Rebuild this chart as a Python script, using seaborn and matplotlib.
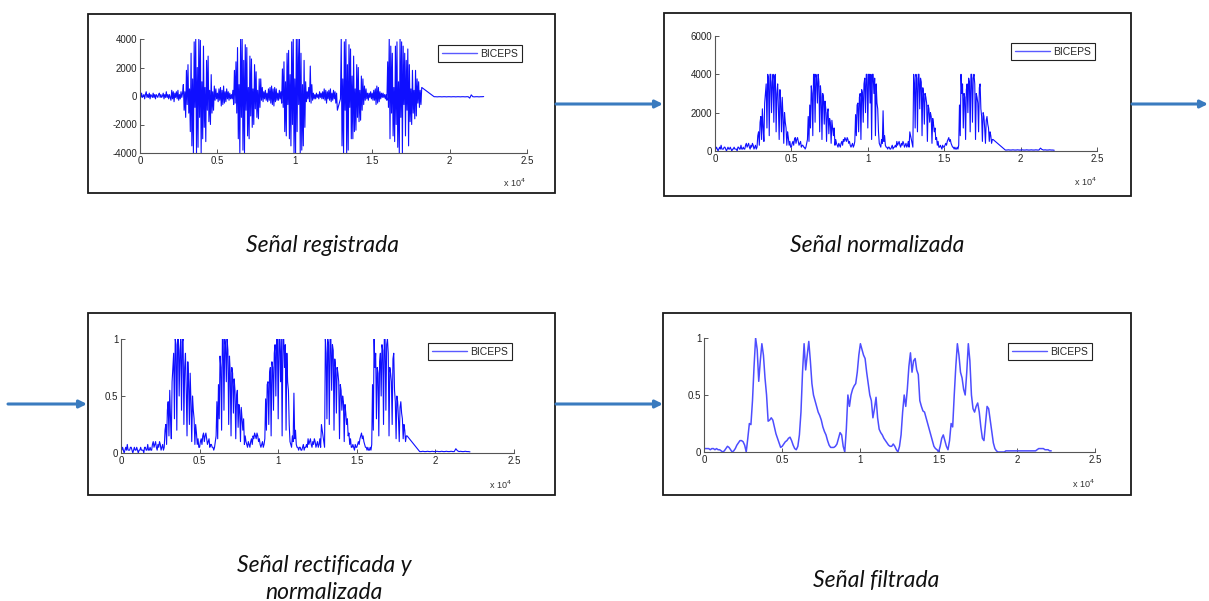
import numpy as np
import matplotlib
matplotlib.use("Agg")
import matplotlib.pyplot as plt
import seaborn as sns
from matplotlib.patches import Rectangle, FancyArrowPatch

# recorded biceps EMG, in hundreds, one value every 50 samples up to 1.82e4
# (read off the first panel)
step_main = 50
raw_main_x100 = [
    # quiet 0 - 0.2
    1, -1, 2, -1, 0, 1, -2, 1, 3, -1, 1, -1, 2, -2, 1, 0, -1, 2, -1, 1,
    -2, 1, 0, -1, 1, 2, -1, 1, -1, 0, 2, -2, 1, -1, 3, -1, 1, -2, 1, -1,
    -3, 4, -2, 3, -4, 2, -1, 3, -2, 4, -3, 1, -2, 3, -1, 2,
    # burst 1
    8, -10, 3, -15, 18, -6, 22, -12, 5, -25,
    30, -35, 12, -40, 38, -8, 40, -40, 20, -36,
    40, -15, 39, -40, 10, -30, 35, -22, 6, -32,
    25, -10, 28, -18, 4, -20, 15, -12, 3, -10,
    7, -3, 5, -2,
    2, -4, 5, -3, 6, -7, 4, -6, 7, -5,
    3, -4, 5, -2, 3, -3, 2, -2, 1, -2,
    4, -6,
    # burst 2
    18, -5, 24, -12, 34, -30, 8, -40, 40, -15,
    40, -38, 25, -40, 36, -10, 34, -28, 6, -30,
    28, -14, 26, -22, 5, -20, 22, -9, 17, -15,
    4, -16, 12, -8, 12, -3, 6, -4,
    3, -2, 4, -3, 2, -4, 5, -3, 6, -5,
    7, -6, 5, -7, 6, -4, 5, -3, 2, -3,
    4, -2, 3, -5,
    # burst 3
    19, -8, 24, -25, 10, -28, 30, -6, 32, -30,
    15, -35, 38, -20, 40, -40, 12, -40, 40, -25,
    40, -6, 40, -40, 30, -38, 8, -35, 25, -22,
    10, -4,
    3, -2, 6, -4, 21, -5, 8, -3, 2, -2,
    1, -2, 2, -1, 1, -2, 3, -1, 2, -2,
    3, -2, 5, -3, 4, -5, 3, -2, 4, -3,
    5, -4, 2, -3, 4, -2, 3, -5, 2, -10,
    -8, -6, -4, -2,
    # burst 4
    40, -35, 12, -40, 38, -10, 40, -40, 22, -38,
    36, -8, 33, -30, 14, -30, 28, -25, 5, -24,
    22, -15, 20, -18, 4, -17, 14, -10, 12, -6,
    7, -3, 5, -2,
    2, -3, 2, -1, 3, -2, 2, -3, 4, -3,
    5, -6, 7, -5, 6, -4, 3, -2, 2, -1,
    2, -1, 1, -2, 1, -3,
    # burst 5
    24, -8, 40, -30, 35, -12, 30, -28, 6, -32,
    35, -20, 38, -36, 10, -40, 40, -15, 38, -40,
    35, -6, 30, -28, 25, -10, 33, -35, 22, -18,
    5, -20, 18, -12, 4, -16, 18, -14, 12, -5,
    10, -8, 4, -6,
    6,
]

# tail after the gap, in hundreds, one value every 100 samples from 1.9e4
tail_start = 19000
step_tail = 100
raw_tail_x100 = [
    -0.5, -0.5, -0.6, -0.5, -0.5, -0.6, -0.5, -0.5, -0.6, -0.5, -0.5,
    -0.6, -0.5, -0.5, -0.6, -0.5, -0.5, -0.6, -0.5, -0.5, -0.6, -0.5,
    -0.5, -1.5, 0.8, -0.5, -0.6, -0.5, -0.5, -0.6, -0.5, -0.5, -0.4,
]

# filtered envelope, one value every 100 samples
step_filt = 100
filtered_signal = [
    0.03, 0.03, 0.03, 0.03, 0.02, 0.03, 0.03, 0.02, 0.03, 0.02, 0.02,
    0.01, 0.00, 0.01, 0.03, 0.05, 0.04, 0.02, 0.00, 0.01, 0.03,
    0.06, 0.08, 0.10, 0.10, 0.09, 0.06, 0.00, 0.12, 0.25, 0.24,
    0.45, 0.75, 1.00, 0.90, 0.62, 0.80, 0.95, 0.85, 0.65, 0.50,
    0.27, 0.28, 0.30, 0.28, 0.22, 0.16, 0.12, 0.08, 0.04, 0.05,
    0.07, 0.09, 0.10, 0.12, 0.13, 0.10, 0.06, 0.03, 0.02, 0.05,
    0.15, 0.35, 0.70, 0.95, 0.72, 0.85, 0.97, 0.80, 0.60, 0.50,
    0.45, 0.40, 0.35, 0.32, 0.28, 0.22, 0.18, 0.15, 0.10, 0.06,
    0.04, 0.04, 0.04, 0.05, 0.07, 0.12, 0.17, 0.15, 0.05, 0.00,
    0.20, 0.50, 0.40, 0.50, 0.55, 0.58, 0.60, 0.70, 0.85, 0.95,
    0.90, 0.85, 0.82, 0.70, 0.60, 0.50, 0.45, 0.30, 0.38, 0.48,
    0.30, 0.20, 0.17, 0.15, 0.12, 0.10, 0.08, 0.06, 0.05, 0.05,
    0.07, 0.05, 0.02, 0.00, 0.05, 0.15, 0.35, 0.50, 0.40, 0.55,
    0.75, 0.87, 0.70, 0.80, 0.82, 0.72, 0.68, 0.45, 0.40, 0.36,
    0.35, 0.30, 0.25, 0.20, 0.15, 0.10, 0.05, 0.03, 0.02, 0.00,
    0.05, 0.12, 0.15, 0.10, 0.05, 0.02, 0.10, 0.25, 0.22, 0.50,
    0.75, 0.95, 0.85, 0.70, 0.65, 0.55, 0.50, 0.70, 0.95, 0.80,
    0.50, 0.38, 0.35, 0.40, 0.43, 0.35, 0.22, 0.12, 0.10, 0.25,
    0.40, 0.38, 0.28, 0.18, 0.08, 0.03, 0.01, 0.00, 0.00, 0.00,
    0.00, 0.00, 0.01, 0.01, 0.01, 0.01, 0.01, 0.01, 0.01, 0.01,
    0.01, 0.01, 0.01, 0.01, 0.01, 0.01, 0.01, 0.01, 0.01, 0.01,
    0.01, 0.01, 0.02, 0.03, 0.03, 0.03, 0.03, 0.02, 0.02, 0.02, 0.01, 0.01,
]

x_ticks = [0, 5000, 10000, 15000, 20000, 25000]
x_tick_labels = ["0", "0.5", "1", "1.5", "2", "2.5"]
captions = ["Señal registrada", "Señal normalizada", "Señal rectificada y\nnormalizada", "Señal filtrada"]
legend_label = "BICEPS"

raw = np.concatenate([np.array(raw_main_x100, float), np.array(raw_tail_x100, float)]) * 100
x_raw = np.concatenate([np.arange(len(raw_main_x100)) * step_main,
                        tail_start + np.arange(len(raw_tail_x100)) * step_tail])
rectified = np.abs(raw)
rect_norm = rectified / rectified.max()
filt = np.array(filtered_signal)
x_filt = np.arange(len(filt)) * step_filt

sns.set_style("ticks")
plt.rcParams["font.family"] = ["Liberation Sans", "DejaVu Sans"]

W, H = 1209, 601
fig = plt.figure(figsize=(W / 100, H / 100), dpi=100)


def px_rect(x0, x1, ytop, ybot):
    return [x0 / W, 1 - ybot / H, (x1 - x0) / W, (ybot - ytop) / H]


def fpt(x, y):
    return (x / W, 1 - y / H)


panels = [
    dict(ax=(140, 527, 39, 153), frame=(88, 555, 14, 193), x=x_raw, y=raw,
         ylim=(-4000, 4000), yticks=[-4000, -2000, 0, 2000, 4000],
         leg=(522, 45), exp=(514, 183), lw=0.8, color="#0f0fff"),
    dict(ax=(715, 1097, 36, 151), frame=(664, 1131, 13, 196), x=x_raw, y=rectified,
         ylim=(0, 6000), yticks=[0, 2000, 4000, 6000],
         leg=(1095, 43), exp=(1085, 182), lw=0.8, color="#0f0fff"),
    dict(ax=(121, 514, 339, 453), frame=(88, 555, 313, 495), x=x_raw, y=rect_norm,
         ylim=(0, 1), yticks=[0, 0.5, 1],
         leg=(512, 343), exp=(500, 485), lw=0.8, color="#0f0fff"),
    dict(ax=(704, 1095, 338, 452), frame=(663, 1131, 313, 495), x=x_filt, y=filt,
         ylim=(0, 1), yticks=[0, 0.5, 1],
         leg=(1092, 343), exp=(1083, 484), lw=1.1, color="#4d4dff"),
]

for p in panels:
    ax = fig.add_axes(px_rect(*p["ax"]))
    sns.lineplot(x=p["x"], y=p["y"], ax=ax, color=p["color"], linewidth=p["lw"],
                 label=legend_label, estimator=None, sort=False)
    ax.set_xlim(0, 25000)
    ax.set_ylim(*p["ylim"])
    ax.set_xticks(x_ticks)
    ax.set_xticklabels(x_tick_labels)
    ax.set_yticks(p["yticks"])
    ax.set_yticklabels([f"{v:g}" for v in p["yticks"]])
    ax.set_xlabel("")
    ax.set_ylabel("")
    sns.despine(ax=ax)
    for s in ["left", "bottom"]:
        ax.spines[s].set_color("#555555")
        ax.spines[s].set_linewidth(0.8)
    ax.tick_params(direction="in", length=3, width=0.7, colors="#555555",
                   labelcolor="#222222", labelsize=7, pad=2)
    ax.patch.set_alpha(0)
    lx, ly = fpt(*p["leg"])
    leg = ax.legend(loc="upper right", bbox_to_anchor=(lx, ly), bbox_transform=fig.transFigure,
                    borderaxespad=0, fancybox=False, framealpha=1, edgecolor="#222222",
                    fontsize=7.5, handlelength=3.4, handletextpad=0.3, borderpad=0.35)
    leg.get_frame().set_linewidth(0.8)
    for h in leg.get_lines():
        h.set_linewidth(1.0)
        h.set_color("#5a5aff")
    ex, ey = fpt(*p["exp"])
    fig.text(ex, ey, r"x 10$^4$", fontsize=6.5, color="#333333", ha="center", va="center")
    fx0, fx1, fy0, fy1 = p["frame"]
    fig.add_artist(Rectangle(fpt(fx0, fy1), (fx1 - fx0) / W, (fy1 - fy0) / H,
                             transform=fig.transFigure, fill=False, edgecolor="#1a1a1a", linewidth=1.3))

# arrows between panels
arrow_color = "#3a7bbf"
for (x0, y0), (x1, y1) in [((556, 104), (663, 104)), ((1132, 104), (1208, 104)),
                           ((8, 404), (87, 404)), ((556, 404), (663, 404))]:
    fig.add_artist(FancyArrowPatch(fpt(x0, y0), fpt(x1, y1), transform=fig.transFigure,
                                   arrowstyle="-|>", mutation_scale=11, color=arrow_color,
                                   linewidth=2.2, shrinkA=0, shrinkB=0))

# captions
cap_font = dict(family=["Lato", "DejaVu Sans"], style="italic", fontsize=16.5, color="#111111",
                ha="center", va="center", linespacing=1.3)
for text, (cx, cy) in zip(captions, [(322, 245), (877, 245), (324, 579), (876, 580)]):
    fig.text(*fpt(cx, cy), text, **cap_font)

fig.savefig("out.png", dpi=100, facecolor="white")
